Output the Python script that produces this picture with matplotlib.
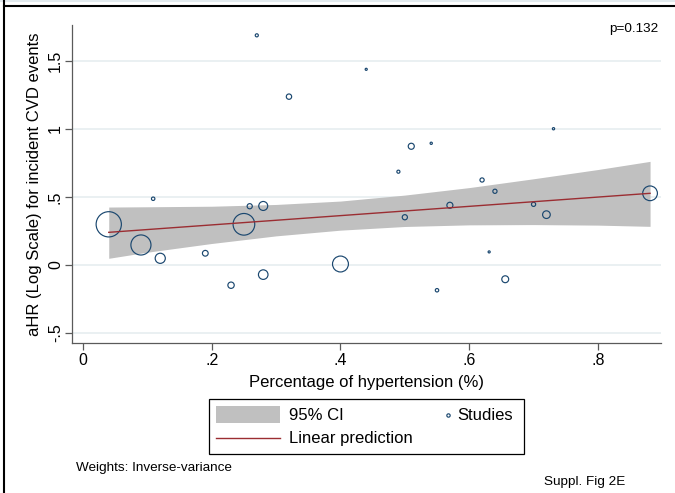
import numpy as np
import matplotlib
matplotlib.use("Agg")
import matplotlib.pyplot as plt
from matplotlib.lines import Line2D
from matplotlib.patches import Rectangle

plt.rcParams['font.family'] = ['Liberation Sans', 'DejaVu Sans']

# study-level data
pct_htn = [0.040, 0.090, 0.120, 0.190, 0.230, 0.280, 0.400, 0.109, 0.250, 0.259,
           0.280, 0.270, 0.320, 0.440, 0.510, 0.541, 0.490, 0.500, 0.570, 0.620,
           0.640, 0.700, 0.720, 0.731, 0.881, 0.550, 0.631, 0.656]
log_hr = [0.299, 0.147, 0.049, 0.086, -0.149, -0.071, 0.007, 0.487, 0.299, 0.432,
          0.434, 1.689, 1.238, 1.439, 0.873, 0.895, 0.686, 0.351, 0.439, 0.625,
          0.542, 0.446, 0.370, 1.002, 0.527, -0.186, 0.096, -0.105]
weights = [174, 110, 28, 9, 11, 25, 69, 3.2, 128, 7.3,
           22, 2.6, 7.8, 1.2, 10, 1.4, 2.6, 7.3, 10, 4.8,
           4.8, 4.8, 16, 1.4, 59, 3.2, 1.2, 13]

# meta-regression fit and 95% CI band
fit_x = [0.040, 0.881]
fit_y = [0.240, 0.527]
band_x = [0.040, 0.1, 0.2, 0.3, 0.4, 0.5, 0.6, 0.7, 0.8, 0.881]
band_lo = [0.049, 0.094, 0.158, 0.214, 0.256, 0.283, 0.295, 0.297, 0.293, 0.284]
band_hi = [0.426, 0.428, 0.432, 0.445, 0.470, 0.514, 0.569, 0.634, 0.702, 0.762]

xticks = [0, 0.2, 0.4, 0.6, 0.8]
xticklabels = ['0', '.2', '.4', '.6', '.8']
yticks = [-0.5, 0, 0.5, 1, 1.5]
yticklabels = ['-.5', '0', '.5', '1', '1.5']

W, H = 675, 493
navy = '#1a476f'
maroon = '#9b2d32'
band_col = '#c0c0c0'
axis_col = '#5a5a5a'

fig = plt.figure(figsize=(W / 100, H / 100), dpi=100)
ax = fig.add_axes([72 / W, 1 - 343 / H, (661 - 72) / W, (343 - 25) / H])

ax.fill_between(band_x, band_lo, band_hi, color=band_col, lw=0, zorder=2)
ax.scatter(pct_htn, log_hr, s=np.array(weights) * 1.9, facecolors='none',
           edgecolors=navy, linewidths=0.85, zorder=3)
ax.plot(fit_x, fit_y, color=maroon, lw=1.0, zorder=4)

ax.set_xlim(-0.0171, 0.898)
ax.set_ylim(-0.574, 1.765)
ax.set_xticks(xticks)
ax.set_xticklabels(xticklabels)
ax.set_yticks(yticks)
ax.set_yticklabels(yticklabels)
ax.grid(axis='y', color='#e6eef0', lw=1.2, zorder=0)
ax.set_axisbelow(True)

for side in ['top', 'right']:
    ax.spines[side].set_visible(False)
for side in ['left', 'bottom']:
    ax.spines[side].set_color(axis_col)
    ax.spines[side].set_linewidth(0.9)

ax.tick_params(axis='both', direction='out', length=5, width=0.9,
               color=axis_col, labelsize=11.5, labelcolor='black')
ax.tick_params(axis='y', labelrotation=90, pad=1.5)
ax.tick_params(axis='x', pad=2)
for lbl in ax.get_yticklabels():
    lbl.set_va('center')

ax.set_xlabel('Percentage of hypertension (%)', fontsize=12)
ax.xaxis.set_label_coords(0.5, (343 - 387) / 318)
ax.xaxis.label.set_va('baseline')
ax.set_ylabel('aHR (Log Scale) for incident CVD events', fontsize=12)
ax.yaxis.set_label_coords((35 - 72) / 589, 0.5)
ax.yaxis.label.set_ha('center')
ax.yaxis.label.set_va('center')


def fx(px):
    return px / W


def fy(py):
    return 1 - py / H


fig.text(fx(658), fy(32), 'p=0.132', fontsize=9.7, ha='right', va='baseline')

# legend drawn by hand to keep Stata's layout
fig.patches.append(Rectangle((fx(209), fy(454)), fx(524) - fx(209), fy(399) - fy(454),
                             transform=fig.transFigure, fill=False, ec='black', lw=0.9))
fig.patches.append(Rectangle((fx(216), fy(423)), fx(280) - fx(216), fy(406) - fy(423),
                             transform=fig.transFigure, color=band_col, lw=0))
fig.lines.append(Line2D([fx(216), fx(280)], [fy(437.5), fy(437.5)],
                        transform=fig.transFigure, color=maroon, lw=1.0))
fig.lines.append(Line2D([fx(448)], [fy(415)], transform=fig.transFigure, marker='o',
                        ms=2.4, mfc='none', mec=navy, mew=0.85, ls='none'))
fig.text(fx(289), fy(415), '95% CI', fontsize=12, va='center')
fig.text(fx(457), fy(415), 'Studies', fontsize=12, va='center')
fig.text(fx(289), fy(438), 'Linear prediction', fontsize=12, va='center')

fig.text(fx(76), fy(471), 'Weights: Inverse-variance', fontsize=9.7, va='baseline')
fig.text(fx(544), fy(485), 'Suppl. Fig 2E', fontsize=9.7, va='baseline')

# outer frame edges visible in the crop
fig.lines.append(Line2D([0, 1], [fy(1), fy(1)], transform=fig.transFigure,
                        color='#e2eaee', lw=1.5))
fig.lines.append(Line2D([fx(4), 1], [fy(6), fy(6)], transform=fig.transFigure,
                        color='black', lw=1.5))
fig.lines.append(Line2D([fx(4.3), fx(4.3)], [0, 1], transform=fig.transFigure,
                        color='black', lw=1.5))

fig.savefig('out.png', dpi=100)
